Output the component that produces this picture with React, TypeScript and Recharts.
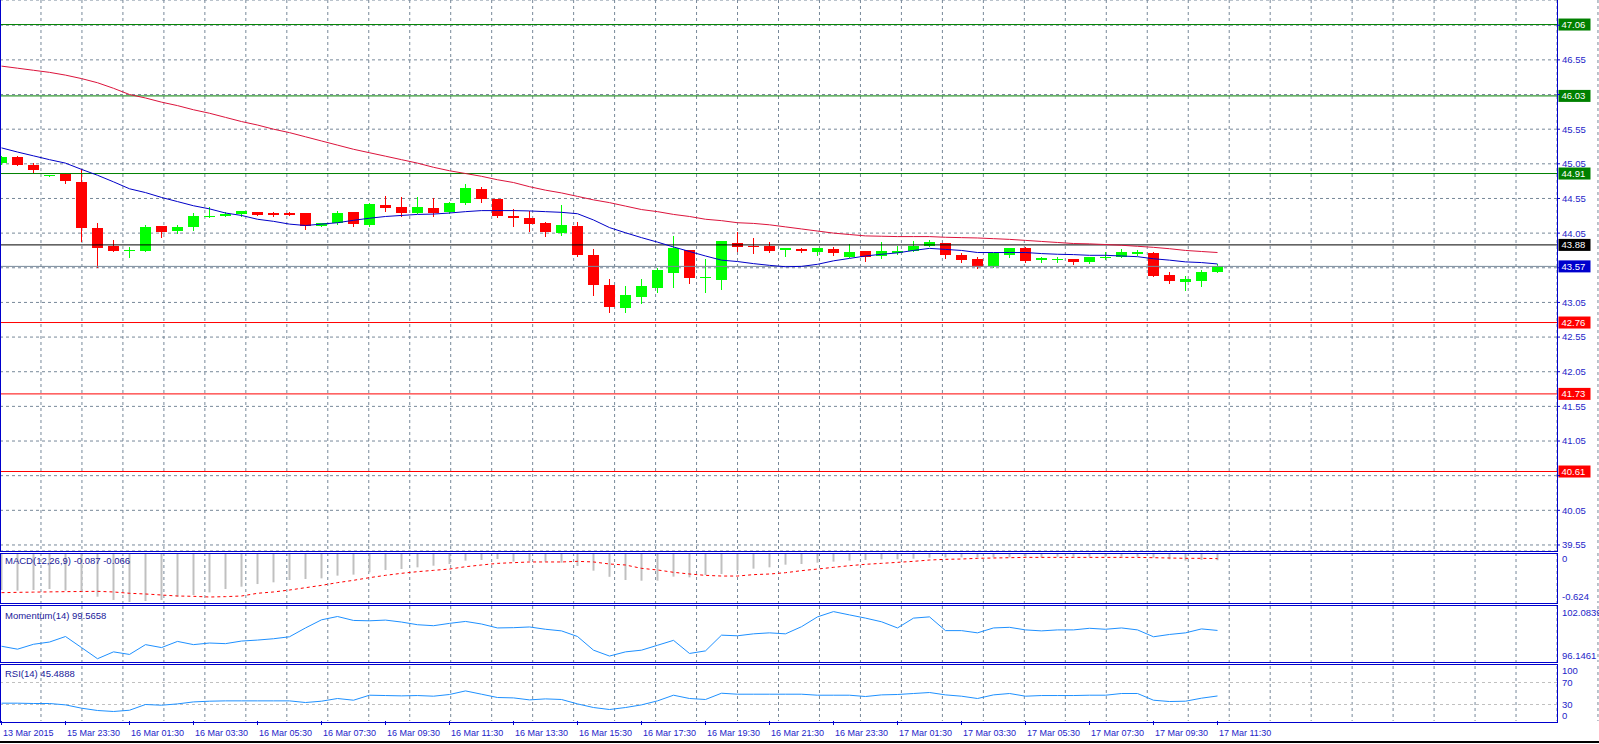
import React from 'react';
import { ComposedChart, Bar, Line, XAxis, YAxis, CartesianGrid, ReferenceLine } from 'recharts';

// M30 candles, 13 Mar 2015 .. 17 Mar 11:30
const opens = [
  45.06, 45.15, 45.03, 44.88, 44.91, 44.785, 44.13, 43.865, 43.8, 43.79,
  44.15, 44.08, 44.135, 44.29, 44.3, 44.33, 44.35, 44.34, 44.34, 44.34,
  44.155, 44.19, 44.35, 44.17, 44.455, 44.425, 44.34, 44.41, 44.35, 44.48,
  44.685, 44.54, 44.295, 44.265, 44.195, 44.05, 44.15, 43.73, 43.3, 42.97,
  43.13, 43.26, 43.475, 43.805, 43.405, 43.375, 43.905, 43.865, 43.87, 43.81,
  43.82, 43.78, 43.82, 43.705, 43.79, 43.72, 43.76, 43.79, 43.87, 43.905,
  43.735, 43.675, 43.575, 43.73, 43.835, 43.66, 43.67, 43.675, 43.635, 43.7,
  43.71, 43.75, 43.76, 43.445, 43.345, 43.36, 43.49,
];
const highs = [
  45.17, 45.165, 45.055, 44.89, 44.915, 44.98, 44.19, 43.95, 43.85, 44.165,
  44.155, 44.165, 44.34, 44.425, 44.36, 44.37, 44.355, 44.36, 44.36, 44.345,
  44.195, 44.37, 44.355, 44.485, 44.585, 44.57, 44.565, 44.55, 44.495, 44.755,
  44.715, 44.545, 44.4, 44.37, 44.21, 44.455, 44.21, 43.82, 43.395, 43.285,
  43.395, 43.54, 44.005, 43.81, 43.675, 43.94, 44.07, 43.975, 43.92, 43.835,
  43.83, 43.835, 43.85, 43.9, 43.795, 43.92, 43.87, 43.935, 43.95, 43.91,
  43.765, 43.705, 43.77, 43.84, 43.85, 43.705, 43.7, 43.68, 43.71, 43.775,
  43.815, 43.805, 43.78, 43.49, 43.425, 43.525, 43.6,
];
const lows = [
  45.05, 45.03, 44.93, 44.875, 44.77, 43.94, 43.56, 43.79, 43.7, 43.785,
  44.0, 44.045, 44.1, 44.285, 44.295, 44.3, 44.31, 44.295, 44.305, 44.11,
  44.15, 44.18, 44.15, 44.15, 44.365, 44.3, 44.335, 44.3, 44.345, 44.47,
  44.505, 44.28, 44.16, 44.08, 44.015, 44.025, 43.72, 43.155, 42.91, 42.91,
  43.045, 43.2, 43.275, 43.335, 43.205, 43.24, 43.79, 43.765, 43.78, 43.72,
  43.78, 43.73, 43.73, 43.7, 43.65, 43.695, 43.755, 43.785, 43.865, 43.69,
  43.635, 43.55, 43.565, 43.7, 43.64, 43.635, 43.64, 43.6, 43.62, 43.67,
  43.7, 43.73, 43.425, 43.33, 43.225, 43.285, 43.485,
];
const closes = [
  45.15, 45.035, 44.96, 44.89, 44.8, 44.125, 43.835, 43.795, 43.805, 44.135,
  44.065, 44.135, 44.295, 44.3, 44.33, 44.365, 44.315, 44.315, 44.315, 44.16,
  44.19, 44.34, 44.185, 44.465, 44.415, 44.34, 44.425, 44.34, 44.48, 44.7,
  44.54, 44.3, 44.265, 44.185, 44.07, 44.165, 43.73, 43.305, 42.985, 43.155,
  43.285, 43.515, 43.835, 43.405, 43.415, 43.935, 43.85, 43.85, 43.79, 43.835,
  43.79, 43.835, 43.765, 43.775, 43.71, 43.79, 43.79, 43.865, 43.92, 43.735,
  43.665, 43.565, 43.765, 43.835, 43.645, 43.69, 43.675, 43.635, 43.705, 43.705,
  43.775, 43.78, 43.43, 43.36, 43.385, 43.49, 43.57,
];
const maFast = [
  45.28, 45.22, 45.165, 45.11, 45.06, 44.97, 44.885, 44.79, 44.69, 44.635,
  44.565, 44.505, 44.445, 44.4, 44.34, 44.305, 44.25, 44.22, 44.18, 44.16,
  44.18, 44.2, 44.235, 44.265, 44.29, 44.305, 44.32, 44.325, 44.34, 44.36,
  44.375, 44.375, 44.375, 44.37, 44.36, 44.35, 44.33, 44.24, 44.13, 44.055,
  43.985, 43.92, 43.85, 43.785, 43.72, 43.66, 43.64, 43.61, 43.585, 43.565,
  43.57, 43.6, 43.65, 43.685, 43.72, 43.745, 43.765, 43.8, 43.83, 43.815,
  43.8, 43.77, 43.77, 43.77, 43.77, 43.755, 43.745, 43.74, 43.73, 43.73,
  43.72, 43.71, 43.68, 43.66, 43.635, 43.625, 43.605,
];
const maSlow = [
  46.46, 46.43, 46.4, 46.37, 46.33, 46.28, 46.22, 46.14, 46.05, 46.0,
  45.94, 45.89, 45.83, 45.78, 45.72, 45.66, 45.61, 45.55, 45.5, 45.44,
  45.38, 45.32, 45.26, 45.21, 45.16, 45.11, 45.06, 45.0, 44.95, 44.91,
  44.87, 44.82, 44.78, 44.72, 44.67, 44.63, 44.58, 44.53, 44.49, 44.44,
  44.39, 44.36, 44.32, 44.29, 44.25, 44.23, 44.2, 44.19, 44.17, 44.14,
  44.11, 44.08, 44.05, 44.03, 44.01, 44.005, 44.0, 44.0, 44.0, 43.99,
  43.985, 43.98, 43.97, 43.96, 43.945, 43.93, 43.915, 43.9, 43.895, 43.885,
  43.875, 43.86, 43.845, 43.825, 43.8, 43.785, 43.77,
];
const macdMain = [
  -0.47, -0.478, -0.47, -0.457, -0.478, -0.5, -0.556, -0.598, -0.624, -0.611,
  -0.598, -0.556, -0.534, -0.5, -0.457, -0.427, -0.393, -0.371, -0.341, -0.328,
  -0.32, -0.285, -0.272, -0.242, -0.212, -0.199, -0.178, -0.157, -0.135, -0.092,
  -0.084, -0.071, -0.105, -0.097, -0.105, -0.118, -0.161, -0.221, -0.3, -0.341,
  -0.35, -0.35, -0.298, -0.307, -0.277, -0.264, -0.221, -0.195, -0.178, -0.144,
  -0.135, -0.118, -0.105, -0.092, -0.084, -0.075, -0.075, -0.067, -0.054, -0.05,
  -0.05, -0.05, -0.05, -0.05, -0.041, -0.05, -0.041, -0.041, -0.041, -0.041,
  -0.041, -0.041, -0.054, -0.075, -0.092, -0.084, -0.087,
];
const macdSignal = [
  -0.504, -0.5, -0.497, -0.494, -0.491, -0.489, -0.487, -0.495, -0.512, -0.521,
  -0.534, -0.547, -0.551, -0.56, -0.555, -0.547, -0.512, -0.495, -0.47, -0.44,
  -0.41, -0.375, -0.345, -0.311, -0.281, -0.255, -0.234, -0.217, -0.2, -0.17,
  -0.148, -0.127, -0.118, -0.109, -0.109, -0.109, -0.101, -0.109, -0.135, -0.148,
  -0.191, -0.212, -0.242, -0.264, -0.281, -0.29, -0.29, -0.272, -0.264, -0.247,
  -0.221, -0.2, -0.178, -0.157, -0.139, -0.127, -0.114, -0.101, -0.084, -0.075,
  -0.071, -0.062, -0.058, -0.054, -0.05, -0.05, -0.05, -0.05, -0.05, -0.05,
  -0.05, -0.05, -0.054, -0.058, -0.062, -0.062, -0.066,
];
const momentum = [
  97.8, 97.47, 98.02, 98.27, 98.89, 97.65, 96.4, 97.17, 96.88, 97.98,
  97.65, 98.34, 97.98, 98.16, 98.09, 98.38, 98.49, 98.64, 98.86, 99.85,
  100.76, 101.13, 100.69, 100.65, 100.73, 100.51, 100.21, 100.1, 100.36, 100.58,
  100.29, 99.85, 99.88, 99.96, 99.7, 99.52, 98.89, 97.36, 96.7, 97.17,
  97.36, 97.91, 98.46, 96.99, 97.28, 99.04, 98.97, 99.19, 99.3, 99.19,
  99.99, 101.09, 101.68, 101.31, 100.95, 100.54, 99.85, 100.95, 101.09, 99.55,
  99.55, 99.3, 99.85, 99.92, 99.63, 99.52, 99.63, 99.63, 99.81, 99.7,
  99.85, 99.63, 98.86, 99.12, 99.3, 99.74, 99.57,
];
const rsi = [
  32.4, 32.4, 31.8, 31.8, 29.3, 23.3, 19.1, 17.3, 19.6, 30.0,
  28.7, 31.1, 34.7, 36.0, 36.6, 36.6, 36.6, 36.6, 36.6, 33.6,
  36.0, 40.9, 37.8, 46.9, 46.3, 45.7, 46.3, 45.1, 48.2, 54.7,
  48.7, 42.7, 42.0, 38.4, 40.2, 39.1, 31.1, 24.5, 20.9, 24.5,
  29.3, 36.6, 46.9, 40.9, 39.1, 50.5, 48.7, 48.7, 48.7, 48.7,
  48.7, 46.9, 46.9, 46.9, 44.5, 47.5, 48.2, 50.0, 51.8, 47.5,
  45.1, 40.9, 47.5, 50.0, 45.1, 46.3, 46.3, 46.3, 46.9, 46.9,
  50.0, 50.0, 37.8, 35.4, 36.0, 41.5, 45.5,
];

const timeLabels = [
  '13 Mar 2015', '15 Mar 23:30', '16 Mar 01:30', '16 Mar 03:30', '16 Mar 05:30',
  '16 Mar 07:30', '16 Mar 09:30', '16 Mar 11:30', '16 Mar 13:30', '16 Mar 15:30',
  '16 Mar 17:30', '16 Mar 19:30', '16 Mar 21:30', '16 Mar 23:30', '17 Mar 01:30',
  '17 Mar 03:30', '17 Mar 05:30', '17 Mar 07:30', '17 Mar 09:30', '17 Mar 11:30',
];
const labelStep = 4; // one label every 4 bars (2 hours)
const timeTicks = timeLabels.map((_, k) => k * labelStep);
const gridIdx = Array.from({ length: 48 }, (_, k) => (k + 1) * 2);

const priceGrid = [
  39.55, 40.05, 40.55, 41.05, 41.55, 42.05, 42.55, 43.05,
  43.55, 44.05, 44.55, 45.05, 45.55, 46.05, 46.55, 47.05,
];
const coveredLabels = [40.55, 43.55, 46.05, 47.05];

const levels = [
  { v: 47.06, line: '#008000', tag: '#008000' },
  { v: 46.03, line: '#008000', tag: '#008000' },
  { v: 44.91, line: '#008000', tag: '#008000' },
  { v: 43.88, line: '#000000', tag: '#000000' },
  { v: 43.57, line: '#778899', tag: '#0000cd' },
  { v: 42.76, line: '#ff0000', tag: '#ff0000' },
  { v: 41.73, line: '#ff0000', tag: '#ff0000' },
  { v: 40.61, line: '#ff0000', tag: '#ff0000' },
];

const FONT = '"Liberation Sans", Arial, sans-serif';
const TXT = '#2424c8';
const FRAME = '#0000cd';
const GRID = '#778899';
const X_DOMAIN = [-0.09375, 97.21875];
const W = 1599;
const AXIS_W = 42;

const candles = opens.map((o, i) => ({
  i, o, h: highs[i], l: lows[i], c: closes[i], range: [lows[i], highs[i]], fast: maFast[i], slow: maSlow[i],
}));
const macdData = macdMain.map((m, i) => ({ i, m, s: macdSignal[i] }));
const momData = momentum.map((v, i) => ({ i, v }));
const rsiData = rsi.map((v, i) => ({ i, v }));

const Candle = (props: any) => {
  const { x, y, width, height, payload } = props;
  if (!payload || x == null) return null;
  const top = Math.min(y, y + height);
  const bot = Math.max(y, y + height);
  const k = (bot - top) / (payload.h - payload.l);
  const py = (v: number) => top + (payload.h - v) * k;
  const col = Math.floor(x + width / 2);
  const up = payload.c >= payload.o;
  const color = up ? '#00ff00' : '#ff0000';
  const b1 = Math.round(py(Math.max(payload.o, payload.c)));
  const b2 = Math.round(py(Math.min(payload.o, payload.c)));
  return (
    <g>
      <line x1={col + 0.5} x2={col + 0.5} y1={Math.round(top)} y2={Math.round(bot) + 1} stroke={color} strokeWidth={1} />
      <rect x={col - 5} y={b1} width={11} height={Math.max(1, b2 - b1)} fill={color} />
    </g>
  );
};

const LevelTag = (props: any) => {
  const { viewBox, value, bg } = props;
  if (!viewBox) return null;
  const x = viewBox.x + viewBox.width + 1.5;
  const y = viewBox.y;
  return (
    <g>
      <rect x={x} y={y - 6} width={32} height={12} fill={bg} />
      <text x={x + 3} y={y} dy="0.36em" fill="#ffffff" fontSize={9.5} fontFamily={FONT}>
        {value.toFixed(2)}
      </text>
    </g>
  );
};

const PriceTick = (props: any) => {
  const { x, y, payload } = props;
  if (coveredLabels.includes(payload.value)) return <g />;
  return (
    <text x={x} y={y} dy="0.36em" fill={TXT} fontSize={9.5} fontFamily={FONT}>
      {payload.value.toFixed(2)}
    </text>
  );
};

// side labels of the indicator windows: top / bottom ones sit inside the window
const sideTick = (labels: Record<string, string>, shifts: Record<string, number>) => (props: any) => {
  const { x, y, payload } = props;
  const key = String(payload.value);
  return (
    <text x={x} y={y + (shifts[key] || 0)} dy="0.36em" fill={TXT} fontSize={9.5} fontFamily={FONT}>
      {labels[key]}
    </text>
  );
};

const TimeTick = (props: any) => {
  const { x, y, payload } = props;
  return (
    <text x={x + 1.5} y={y + 5} dy="0.71em" fill={TXT} fontSize={9} fontFamily={FONT} textAnchor="start">
      {timeLabels[payload.value / labelStep]}
    </text>
  );
};

const frame = (top: number, height: number, noTop = false) => ({
  position: 'absolute' as const,
  left: 0,
  top,
  width: 1558,
  height,
  boxSizing: 'border-box' as const,
  border: `1px solid ${FRAME}`,
  borderTop: noTop ? 'none' : `1px solid ${FRAME}`,
  pointerEvents: 'none' as const,
});

const title = (top: number) => ({
  position: 'absolute' as const,
  left: 5,
  top,
  fontFamily: FONT,
  fontSize: 9.5,
  lineHeight: '11px',
  color: '#20209a',
  whiteSpace: 'nowrap' as const,
});

const margin = { top: 0, right: 0, bottom: 0, left: 0 };

// hidden axis that only carries the vertical grid (every 2 bars)
const gridAxis = (
  <XAxis xAxisId="g" type="number" domain={X_DOMAIN} allowDataOverflow ticks={gridIdx} interval={0} hide />
);

export default function App() {
  return (
    <div style={{ position: 'absolute', left: 0, top: 0, width: W, height: 744, background: '#fff', overflow: 'hidden' }}>
      <div style={{ position: 'absolute', left: 0, top: 0 }}>
        <ComposedChart width={W} height={551} data={candles} margin={margin}>
          <CartesianGrid stroke={GRID} strokeDasharray="3 3" xAxisId="g" />
          {gridAxis}
          <XAxis type="number" dataKey="i" domain={X_DOMAIN} allowDataOverflow hide />
          <YAxis
            orientation="right"
            width={AXIS_W}
            type="number"
            domain={[39.463, 47.414]}
            allowDataOverflow
            ticks={priceGrid}
            interval={0}
            tick={(p: any) => <PriceTick {...p} />}
            tickSize={3}
            tickMargin={2}
            axisLine={false}
            tickLine={{ stroke: FRAME }}
          />
          {levels.map((lv) => (
            <ReferenceLine key={lv.v} y={lv.v} stroke={lv.line} strokeWidth={1} label={<LevelTag value={lv.v} bg={lv.tag} />} />
          ))}
          <Bar dataKey="range" barSize={11} shape={(p: any) => <Candle {...p} />} isAnimationActive={false} />
          <Line dataKey="slow" type="linear" stroke="#dc143c" strokeWidth={1} dot={false} activeDot={false} isAnimationActive={false} />
          <Line dataKey="fast" type="linear" stroke="#0000c8" strokeWidth={1} dot={false} activeDot={false} isAnimationActive={false} />
        </ComposedChart>
      </div>

      <div style={{ position: 'absolute', left: 0, top: 553 }}>
        <ComposedChart width={W} height={50} data={macdData} margin={margin}>
          <CartesianGrid stroke={GRID} strokeDasharray="3 3" horizontal={false} xAxisId="g" />
          {gridAxis}
          <XAxis type="number" dataKey="i" domain={X_DOMAIN} allowDataOverflow hide />
          <YAxis
            orientation="right"
            width={AXIS_W}
            type="number"
            domain={[-0.637, 0.0064]}
            allowDataOverflow
            ticks={[0, -0.624]}
            interval={0}
            tick={sideTick({ '0': '0', '-0.624': '-0.624' }, { '0': 5, '-0.624': -5 })}
            tickSize={3}
            tickMargin={2}
            axisLine={false}
            tickLine={false}
          />
          <ReferenceLine y={0} stroke="#b8b8b8" strokeDasharray="3 3" />
          <Bar dataKey="m" fill="#c0c0c0" barSize={2} isAnimationActive={false} />
          <Line dataKey="s" type="linear" stroke="#ff0000" strokeDasharray="3 3" strokeWidth={1} dot={false} activeDot={false} isAnimationActive={false} />
        </ComposedChart>
      </div>

      <div style={{ position: 'absolute', left: 0, top: 606 }}>
        <ComposedChart width={W} height={56} data={momData} margin={margin}>
          <CartesianGrid stroke={GRID} strokeDasharray="3 3" horizontal={false} xAxisId="g" />
          {gridAxis}
          <XAxis type="number" dataKey="i" domain={X_DOMAIN} allowDataOverflow hide />
          <YAxis
            orientation="right"
            width={AXIS_W}
            type="number"
            domain={[96.034, 102.308]}
            allowDataOverflow
            ticks={[102.0839, 96.1461]}
            interval={0}
            tick={sideTick({ '102.0839': '102.0839', '96.1461': '96.1461' }, { '102.0839': 5, '96.1461': -5 })}
            tickSize={3}
            tickMargin={2}
            axisLine={false}
            tickLine={false}
          />
          <Line dataKey="v" type="linear" stroke="#1e90ff" strokeWidth={1} dot={false} activeDot={false} isAnimationActive={false} />
        </ComposedChart>
      </div>

      <div style={{ position: 'absolute', left: 0, top: 666 }}>
        <ComposedChart width={W} height={77} data={rsiData} margin={margin}>
          <CartesianGrid stroke={GRID} strokeDasharray="3 3" horizontal={false} xAxisId="g" />
          {gridAxis}
          <XAxis
            type="number"
            dataKey="i"
            domain={X_DOMAIN}
            allowDataOverflow
            ticks={timeTicks}
            interval={0}
            height={22}
            tick={(p: any) => <TimeTick {...p} />}
            tickSize={4}
            tickMargin={0}
            axisLine={false}
            tickLine={{ stroke: FRAME }}
          />
          <YAxis
            orientation="right"
            width={AXIS_W}
            type="number"
            domain={[0, 100]}
            ticks={[100, 70, 30, 0]}
            interval={0}
            tick={sideTick({ '100': '100', '70': '70', '30': '30', '0': '0' }, { '100': 5, '0': -5 })}
            tickSize={3}
            tickMargin={2}
            axisLine={false}
            tickLine={false}
          />
          <ReferenceLine y={70} stroke="#c0c0c0" strokeDasharray="3 3" />
          <ReferenceLine y={30} stroke="#c0c0c0" strokeDasharray="3 3" />
          <Line dataKey="v" type="linear" stroke="#1e90ff" strokeWidth={1} dot={false} activeDot={false} isAnimationActive={false} />
        </ComposedChart>
      </div>

      <div style={frame(-1, 553, true)} />
      <div style={frame(553, 51)} />
      <div style={frame(605, 58)} />
      <div style={frame(664, 59)} />

      <div style={title(555)}>MACD(12,26,9) -0.087 -0.066</div>
      <div style={title(610)}>Momentum(14) 99.5658</div>
      <div style={title(668)}>RSI(14) 45.4888</div>

      <div style={{ position: 'absolute', left: 0, top: 741, width: W, height: 2, background: '#000' }} />
    </div>
  );
}
